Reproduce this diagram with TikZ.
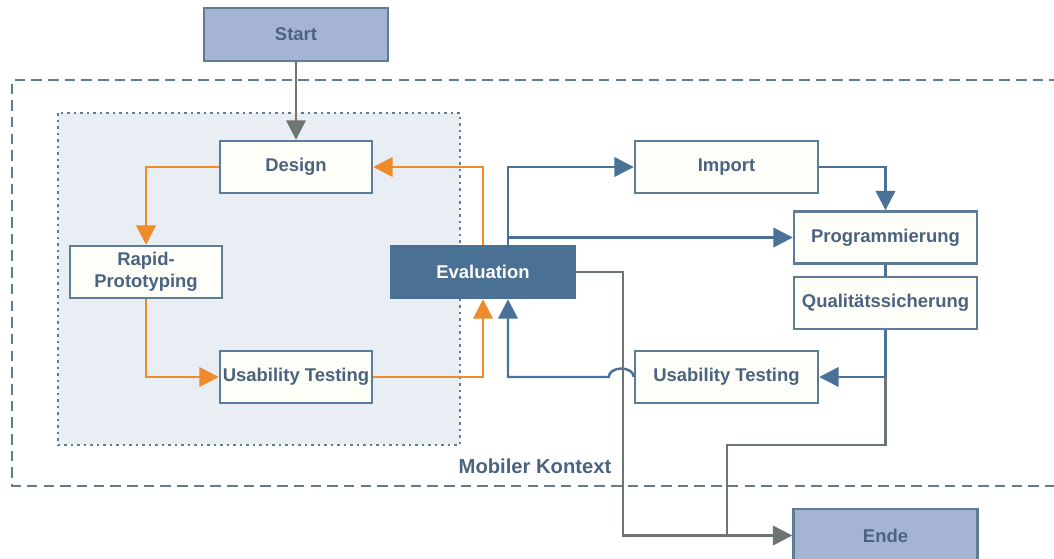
\documentclass[tikz,border=0pt]{standalone}
\usepackage{fontspec}
\setmainfont{Liberation Sans}
\usepackage{tikz}
\usetikzlibrary{arrows.meta}

\definecolor{endfill}{HTML}{A6B4D3}
\definecolor{boxfill}{HTML}{FDFEF7}
\definecolor{boxline}{HTML}{5E7C96}
\definecolor{evalfill}{HTML}{4A7094}
\definecolor{textcol}{HTML}{4B6380}
\definecolor{orangeline}{HTML}{EE8B2D}
\definecolor{blueline}{HTML}{4A7298}
\definecolor{grayline}{HTML}{6D7570}
\definecolor{innerfill}{HTML}{E9EEF5}

\begin{document}
\begin{tikzpicture}[x=0.02cm, y=-0.02cm,
	box/.style={draw=boxline, line width=1.4pt, fill=boxfill, text=textcol, font=\fontsize{10.5}{12.5}\selectfont\bfseries, minimum width=3.04cm, minimum height=1.04cm, inner sep=0pt, align=center},
	endbox/.style={box, fill=endfill, minimum width=3.68cm, minimum height=1.06cm},
	evalbox/.style={box, draw=evalfill, fill=evalfill, text=white, minimum width=3.68cm},
	widebox/.style={box, minimum width=3.66cm},
	tip/.style={-{Triangle[length=11pt, width=11pt]}},
	orangearrow/.style={line width=1.4pt, draw=orangeline, tip},
	bluearrow/.style={line width=1.4pt, draw=blueline, tip},
	grayarrow/.style={line width=1.4pt, draw=grayline, tip}]
	\useasboundingbox (0, 0) rectangle (1054, 558);
	\fill [innerfill] (58, 113) rectangle (460, 445);
	\draw [boxline, line width=1.3pt, dash pattern=on 1.5pt off 2.2pt] (58, 113) rectangle (460, 445);
	\draw [boxline, line width=1.3pt, dash pattern=on 6pt off 3.5pt] (1060, 80) -- (12, 80) -- (12, 486) -- (1060, 486);
	\node [text=textcol, font=\fontsize{11.5}{13}\selectfont\bfseries] (kontext) at (535, 466) {Mobiler Kontext};

	\node [endbox] (start) at (296, 34.5) {Start};
	\node [box] (design) at (296, 167) {Design};
	\node [box] (rapid) at (146, 272) {Rapid-\\Prototyping};
	\node [box] (testleft) at (296, 377) {Usability Testing};
	\node [evalbox] (eval) at (483, 272) {Evaluation};
	\node [widebox] (import) at (726.5, 167) {Import};
	\node [widebox] (prog) at (885.5, 237.5) {Programmierung};
	\node [widebox] (qual) at (885.5, 303) {Qualitätssicherung};
	\node [widebox] (testright) at (726.5, 377) {Usability Testing};
	\node [endbox] (ende) at (885.5, 535.5) {Ende};

	\draw [grayarrow] (start) -- (design);
	\draw [orangearrow] (design.west) -| (rapid.north);
	\draw [orangearrow] (rapid.south) |- (testleft.west);
	\draw [orangearrow] (testleft.east) -| (eval.south);
	\draw [orangearrow] (eval.north) |- (design.east);

	\draw [bluearrow] ([xshift=0.5cm]eval.north) |- (import.west);
	\draw [bluearrow] ([xshift=0.5cm]eval.north |- prog.west) -- (prog.west);
	\draw [bluearrow] (import.east) -| (prog.north);
	\draw [blueline, line width=1.4pt] (prog.south) -- (qual.north);
	\draw [bluearrow] (qual.south) |- (testright.east);
	\draw [bluearrow] (testright.west) arc [start angle=0, end angle=180, x radius=0.25cm, y radius=0.17cm] -- ([xshift=0.5cm]eval.south |- testright.west) -- ([xshift=0.5cm]eval.south);

	\coordinate (turn) at (727, 445);
	\draw [grayline, line width=1.4pt] (qual.south |- testright.east) |- (turn) -- (turn |- ende.west);
	\draw [grayarrow] (eval.east) -- ++(47, 0) |- (ende.west);
\end{tikzpicture}
\end{document}
